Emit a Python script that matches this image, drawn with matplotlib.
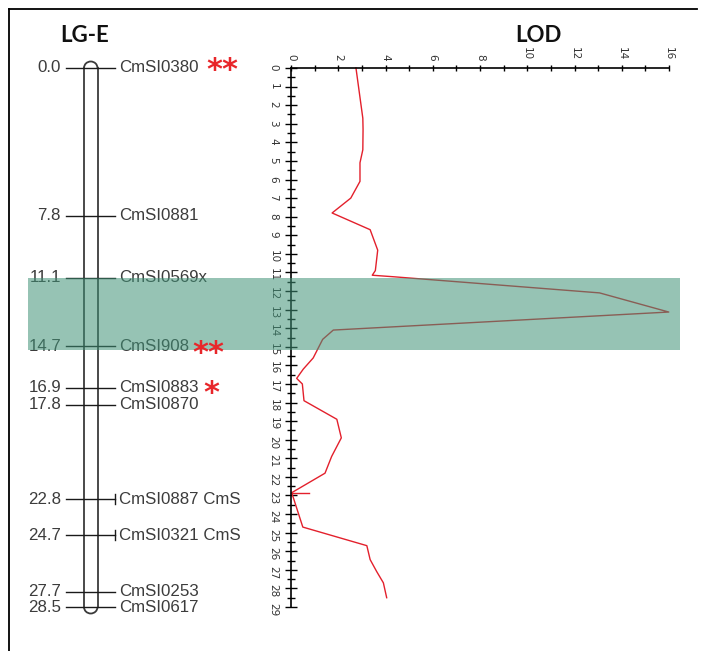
import matplotlib
matplotlib.use("Agg")
import matplotlib.pyplot as plt
from matplotlib.patches import Arc, Rectangle

# ---------------- data ----------------
marker_pos = [0.0, 7.8, 11.1, 14.7, 16.9, 17.8, 22.8, 24.7, 27.7, 28.5]
marker_names = ["CmSI0380", "CmSI0881", "CmSI0569x", "CmSI908", "CmSI0883",
                "CmSI0870", "CmSI0887 CmS", "CmSI0321 CmS", "CmSI0253", "CmSI0617"]
marker_stars = ["**", "", "", "**", "*", "", "", "", "", ""]
marker_bar_end = [False, False, False, False, False, False, True, True, False, False]

lod_pos = [0.0, 2.7, 3.3, 4.4, 5.1, 6.1, 7.0, 7.8, 8.7, 9.8, 10.9, 11.15, 11.23,
           12.1, 13.13, 14.1, 14.6, 15.6, 16.2, 16.7, 17.0, 17.9, 18.9, 19.9,
           20.9, 21.8, 22.85, 24.7, 25.7, 26.45, 27.1, 27.7, 28.5]
lod_val = [2.75, 3.04, 3.05, 3.04, 2.92, 2.92, 2.53, 1.74, 3.35, 3.67, 3.57, 3.44, 4.32,
           13.06, 15.99, 1.79, 1.34, 0.94, 0.52, 0.24, 0.48, 0.55, 1.94, 2.13,
           1.72, 1.44, 0.03, 0.50, 3.21, 3.35, 3.63, 3.91, 4.05]
spur_pos = [22.85, 22.85]
spur_val = [0.0, 0.78]

band_cm = (11.1, 14.9)
lod_xticks = list(range(0, 17, 2))
pos_ticks = list(range(0, 30))

# ---------------- figure ----------------
W, H = 707, 651
fig = plt.figure(figsize=(W / 100, H / 100), dpi=100)

px_per_cm = 539 / 28.5
top_px = 68

# map axes: x in pixels, y in cM
ax = fig.add_axes([0, 0, 1, 1])
ax.set_xlim(0, W)
ax.set_ylim((H - top_px) / px_per_cm, -top_px / px_per_cm)
ax.axis("off")

# frame (top + left)
ax.plot([9, 697], [(9 - top_px) / px_per_cm] * 2, color="black", lw=1.3, clip_on=False)
ax.plot([9, 9], [(9 - top_px) / px_per_cm, (H - top_px) / px_per_cm], color="black", lw=1.3, clip_on=False)

# chromosome
cx0, cx1 = 84, 97.5
cap = 6.5 / px_per_cm
ycap_top, ycap_bot = marker_pos[0], marker_pos[-1]
chrom_col = "#3a3a3a"
ax.plot([cx0, cx0], [ycap_top, ycap_bot], color=chrom_col, lw=1.3)
ax.plot([cx1, cx1], [ycap_top, ycap_bot], color=chrom_col, lw=1.3)
ax.add_patch(Arc(((cx0 + cx1) / 2, ycap_top), cx1 - cx0, 2 * cap, theta1=180, theta2=360,
                 color=chrom_col, lw=1.3))
ax.add_patch(Arc(((cx0 + cx1) / 2, ycap_bot), cx1 - cx0, 2 * cap, theta1=0, theta2=180,
                 color=chrom_col, lw=1.3))

txt_col = "#3c3c3c"
for p, name, bar in zip(marker_pos, marker_names, marker_bar_end):
    ax.plot([66, 115], [p, p], color="#1a1a1a", lw=1.0)
    if bar:
        d = 5 / px_per_cm
        ax.plot([114.5, 114.5], [p - d, p + d], color="#1a1a1a", lw=1.0)
    ax.text(61, p, f"{p:.1f}", ha="right", va="center", fontsize=12.2,
            family="Liberation Sans", color=txt_col)
    ax.text(119, p, name, ha="left", va="center", fontsize=12.2,
            family="Liberation Sans", color=txt_col)

# titles
fig.text(85 / W, 1 - 35 / H, "LG-E", ha="center", va="center", fontsize=16,
         fontweight="bold", family="Lato", color="#111111")
fig.text(538 / W, 1 - 35 / H, "LOD", ha="center", va="center", fontsize=16,
         fontweight="bold", family="Lato", color="#111111")

# LOD axes
axl = fig.add_axes([291 / W, (H - 607) / H, (669 - 291) / W, 539 / H])
axl.patch.set_alpha(0)
axl.set_xlim(0, 16)
axl.set_ylim(29, 0)
for s in ["right", "bottom"]:
    axl.spines[s].set_visible(False)
for s in ["left", "top"]:
    axl.spines[s].set_linewidth(1.2)
axl.xaxis.set_ticks_position("top")
axl.set_xticks(lod_xticks)
axl.set_xticks(range(0, 17), minor=True)
axl.set_yticks(pos_ticks)
axl.set_yticks([p + 0.5 for p in pos_ticks[:-1]], minor=True)
axl.tick_params(axis="x", which="major", direction="inout", length=5, width=1.0,
                labelsize=7.5, labelrotation=-90, pad=3, labelcolor="#333333")
axl.tick_params(axis="x", which="minor", direction="inout", length=4, width=1.0)
axl.tick_params(axis="y", which="major", direction="inout", length=8, width=1.0,
                labelsize=7.5, labelrotation=-90, pad=5, labelcolor="#333333")
axl.tick_params(axis="y", which="minor", direction="inout", length=6, width=1.0)
axl.plot(lod_val, lod_pos, color="#e3202c", lw=1.0, clip_on=False)
axl.plot(spur_val, spur_pos, color="#e3202c", lw=1.0, clip_on=False)

# band overlay (and significance stars on top of it)
axb = fig.add_axes([0, 0, 1, 1], zorder=5)
axb.set_xlim(0, W)
axb.set_ylim(ax.get_ylim())
axb.axis("off")
axb.add_patch(Rectangle((28, band_cm[0]), 680 - 28, band_cm[1] - band_cm[0],
                        facecolor=(64 / 255, 146 / 255, 119 / 255), alpha=0.55, lw=0))

star_x = {0: 206, 3: 192, 4: 203}
star_off = {0: -7.8, 3: -11.2, 4: -10.0}
for i, (p, st) in enumerate(zip(marker_pos, marker_stars)):
    if st:
        axb.annotate(st, xy=(star_x[i], p), xytext=(0, star_off[i]),
                     textcoords="offset points", ha="left", va="baseline",
                     fontsize=22, fontweight="bold", family="DejaVu Sans",
                     color="#e8262a", zorder=10)

fig.savefig("out.png", dpi=100)
